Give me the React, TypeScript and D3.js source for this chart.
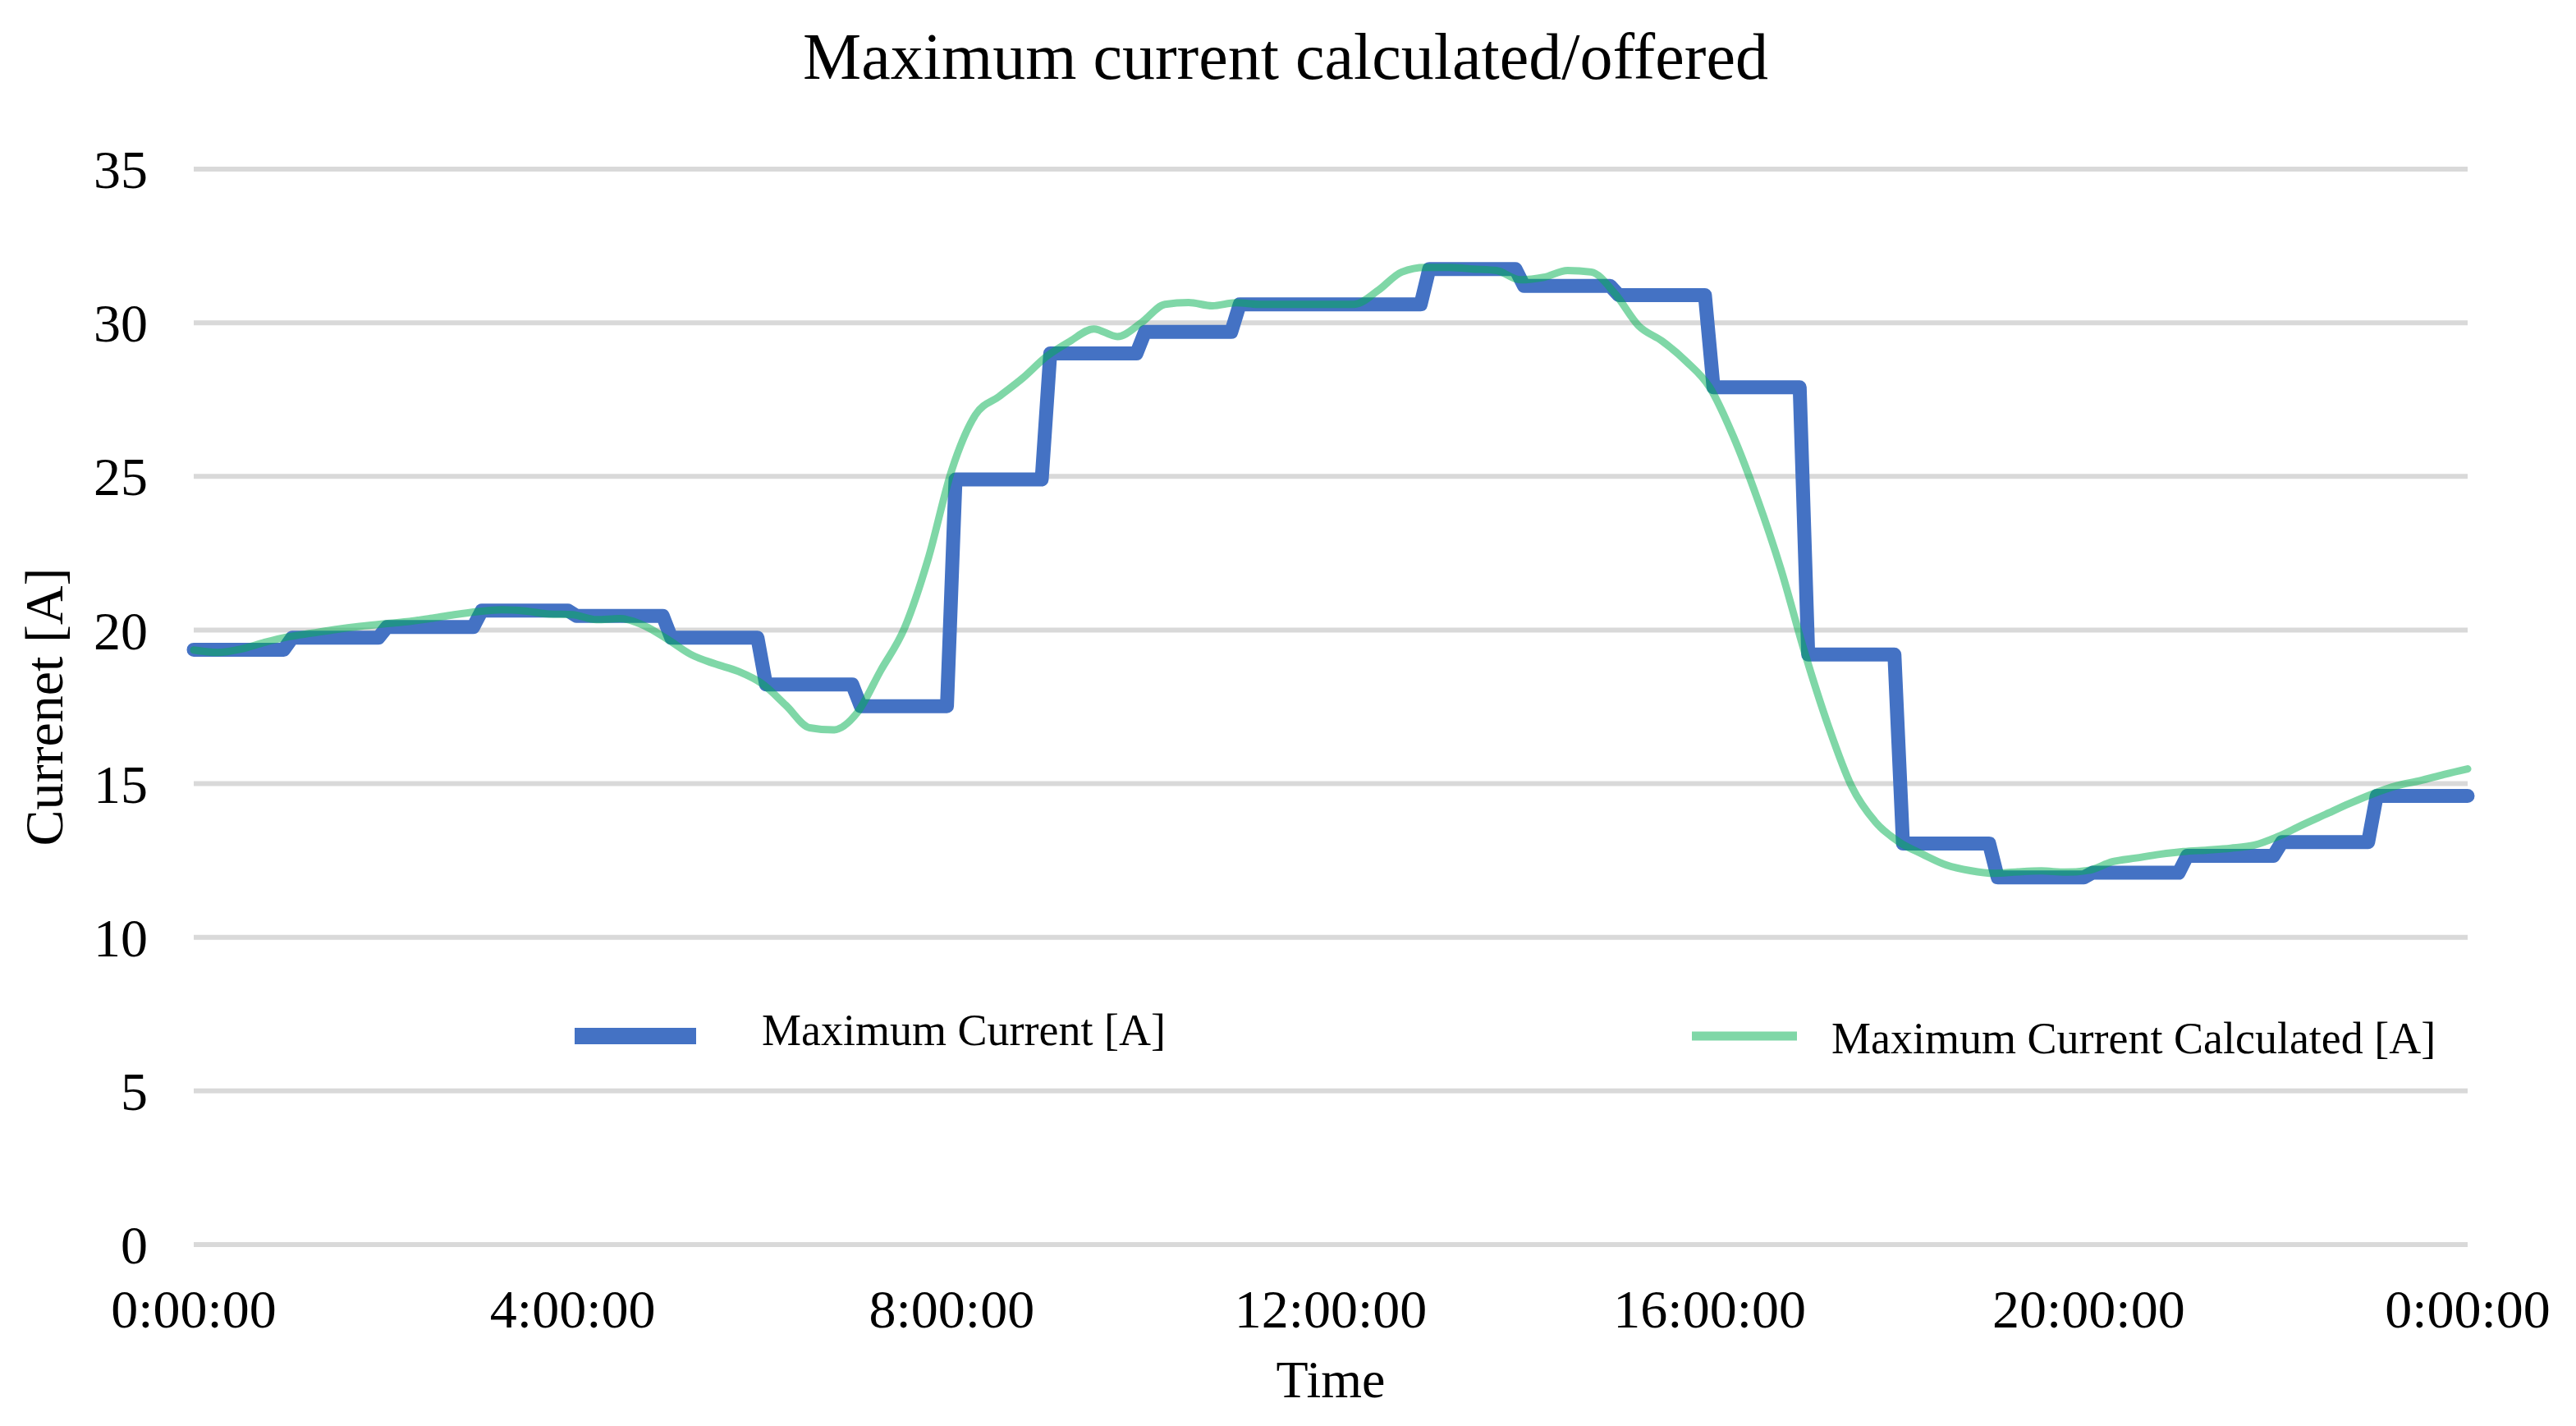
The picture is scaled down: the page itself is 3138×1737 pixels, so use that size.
import React from "react";
import * as d3 from "d3";

// Hourly step values of the offered maximum current (one value per hour, 0h..23h)
const maxCurrent = [
  19.36, 19.75, 20.1, 20.63, 20.46, 19.75, 18.23, 17.52, 24.9, 29.0, 29.7, 30.6,
  30.6, 31.75, 31.2, 30.9, 27.9, 19.2, 13.05, 11.95, 12.1, 12.65, 13.1, 14.6,
];

// Calculated maximum current, sampled every 15 minutes from 0:00 to 24:00
const calcStepHours = 0.25;
const calcCurrent = [
  19.35, 19.27, 19.38, 19.6, 19.78, 19.9, 20.02, 20.12,
  20.2, 20.27, 20.38, 20.5, 20.6, 20.66, 20.62, 20.52,
  20.5, 20.34, 20.37, 20.15, 19.7, 19.2, 18.9, 18.65,
  18.25, 17.55, 16.82, 16.75, 17.3, 18.68, 20.05, 22.3,
  25.2, 27.0, 27.6, 28.2, 28.9, 29.4, 29.8, 29.55,
  30.0, 30.6, 30.66, 30.55, 30.65, 30.6, 30.6, 30.6,
  30.6, 30.6, 31.05, 31.65, 31.8, 31.8, 31.75, 31.7,
  31.4, 31.48, 31.7, 31.65, 30.95, 29.9, 29.4, 28.75,
  27.9, 26.3, 24.3, 22.0, 19.3, 16.9, 14.9, 13.75,
  13.1, 12.7, 12.35, 12.17, 12.08, 12.13, 12.16, 12.12,
  12.18, 12.46, 12.58, 12.7, 12.79, 12.84, 12.9, 13.0,
  13.28, 13.65, 14.0, 14.35, 14.67, 14.93, 15.1, 15.3,
  15.48,
];

const yTicks = [0, 5, 10, 15, 20, 25, 30, 35];
const xTickHours = [0, 4, 8, 12, 16, 20, 24];
const xTickLabels = ["0:00:00", "4:00:00", "8:00:00", "12:00:00", "16:00:00", "20:00:00", "0:00:00"];

const W = 3138;
const H = 1737;
const FONT = "'Liberation Serif', 'Times New Roman', serif";
const BLUE = "#4472C4";
const GREEN = "#00B050";

export default function App() {
  const x = d3.scaleLinear().domain([0, 24]).range([236, 3006]);
  const y = d3.scaleLinear().domain([0, 35]).range([1516, 206]);

  // steps with a short ramp at each hour change
  const bluePts: [number, number][] = [];
  maxCurrent.forEach((v, i) => {
    bluePts.push([i === 0 ? 0 : i + 0.04, v]);
    bluePts.push([i === maxCurrent.length - 1 ? 24 : i + 1 - 0.05, v]);
  });

  const blueLine = d3
    .line<[number, number]>()
    .x((d) => x(d[0]))
    .y((d) => y(d[1]));

  const greenLine = d3
    .line<number>()
    .x((d, i) => x(i * calcStepHours))
    .y((d) => y(d))
    .curve(d3.curveMonotoneX);

  return (
    <svg
      width={W}
      height={H}
      style={{ position: "fixed", left: 0, top: 0, background: "#fff" }}
      fontFamily={FONT}
    >
      <rect width={W} height={H} fill="#fff" />

      {/* gridlines */}
      {yTicks.map((t) => (
        <line key={t} x1={x(0)} x2={x(24)} y1={y(t)} y2={y(t)} stroke="#D9D9D9" strokeWidth={6} />
      ))}

      {/* y tick labels */}
      {yTicks.map((t) => (
        <text key={t} x={180} y={y(t)} dy="0.35em" textAnchor="end" fontSize={66} fill="#000">
          {t}
        </text>
      ))}

      {/* x tick labels */}
      {xTickHours.map((h, i) => (
        <text key={i} x={x(h)} y={1617} textAnchor="middle" fontSize={66} fill="#000">
          {xTickLabels[i]}
        </text>
      ))}

      <path
        d={blueLine(bluePts) || ""}
        fill="none"
        stroke={BLUE}
        strokeWidth={17}
        strokeLinejoin="round"
        strokeLinecap="round"
      />
      <path
        d={greenLine(calcCurrent) || ""}
        fill="none"
        stroke={GREEN}
        strokeOpacity={0.5}
        strokeWidth={9}
        strokeLinejoin="round"
        strokeLinecap="round"
      />

      {/* title and axis titles */}
      <text x={1566} y={96} textAnchor="middle" fontSize={80} fill="#000">
        Maximum current calculated/offered
      </text>
      <text x={1621} y={1702} textAnchor="middle" fontSize={64} fill="#000">
        Time
      </text>
      <text transform="translate(76,861) rotate(-90)" textAnchor="middle" fontSize={66} fill="#000">
        Currenet [A]
      </text>

      {/* legend */}
      <line x1={700} x2={848} y1={1262} y2={1262} stroke={BLUE} strokeWidth={20} />
      <text x={928} y={1273} fontSize={54} fill="#000">
        Maximum Current [A]
      </text>
      <line x1={2061} x2={2189} y1={1262} y2={1262} stroke={GREEN} strokeOpacity={0.5} strokeWidth={11} />
      <text x={2231} y={1283} fontSize={54} fill="#000">
        Maximum Current Calculated [A]
      </text>
    </svg>
  );
}
